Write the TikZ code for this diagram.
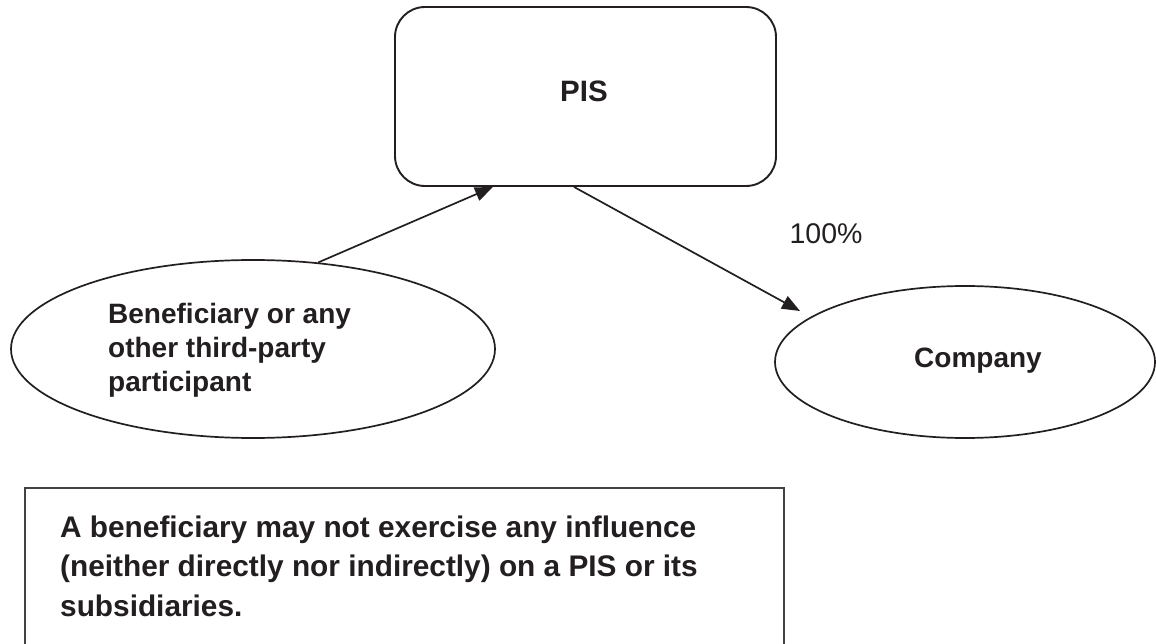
\documentclass[tikz,border=0pt]{standalone}
\usepackage{fontspec}
\setmainfont{Liberation Sans}
\usetikzlibrary{shapes.geometric,arrows.meta,calc}
\definecolor{ink}{HTML}{231F20}
\begin{document}
\begin{tikzpicture}[x=1pt,y=-1pt,
  every node/.style={text=ink},
  boxline/.style={draw=ink, line width=1.9pt},
  ellline/.style={draw=ink, line width=1.7pt, ellipse, inner sep=0pt},
  conn/.style={draw=ink, line width=1.7pt, -{Triangle[length=18pt,width=14pt]}},
  lbl/.style={font=\fontsize{28}{34}\selectfont\bfseries, align=left, inner sep=0pt},
  note/.style={font=\fontsize{29.8}{39.5}\selectfont\bfseries, align=left, inner sep=0pt}]
\useasboundingbox (0,0) rectangle (1156,644);
\fill[white] (0,0) rectangle (1156,644);
% PIS box
\node[boxline, rounded corners=30pt, minimum width=381pt, minimum height=179pt, inner sep=0pt] (pis) at (585.5,96.5) {};
\node[lbl, font=\fontsize{29.5}{34}\selectfont\bfseries] (pistext) at (584,91) {PIS};
% left ellipse
\node[ellline, minimum width=484pt, minimum height=178pt] (ben) at (253,349) {};
\node[lbl, anchor=west] (bentext) at (108,350) {Beneficiary or any\\other third-party\\participant};
% right ellipse
\node[ellline, minimum width=380pt, minimum height=152pt] (comp) at (965,362) {};
\node[lbl] (comptext) at (978,361) {Company};
% label
\node[font=\fontsize{28.5}{34}\selectfont, inner sep=0pt] (pct) at (826,234) {100\%};
% connectors
\draw[conn] (ben.53) -- ([xshift=-92.5pt]pis.south);
\draw[conn] ([xshift=-11.5pt]pis.south) -- ([shift={(-165pt,51pt)}]comp.center);
% bottom note
\node[boxline, draw=ink!85, anchor=north west, minimum width=759pt, minimum height=180pt, inner sep=0pt] (notebox) at (24,487) {};
\node[note, anchor=west] (notetext) at (60,566) {A beneficiary may not exercise any influence\\(neither directly nor indirectly) on a PIS or its\\subsidiaries.};
\end{tikzpicture}
\end{document}
